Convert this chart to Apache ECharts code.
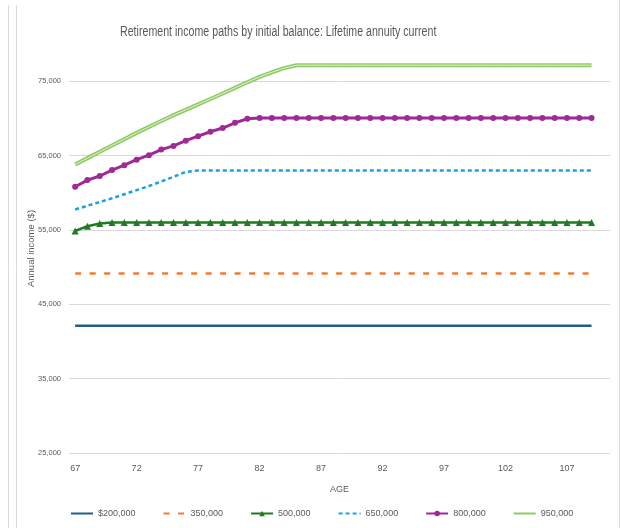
<!DOCTYPE html>
<html>
<head>
<meta charset="utf-8">
<title>Retirement income paths</title>
<script src="https://cdn.jsdelivr.net/npm/echarts@6/dist/echarts.min.js"></script>
<style>
  html, body { margin: 0; padding: 0; background: #ffffff; }
  #chart { width: 620px; height: 528px; }
</style>
</head>
<body>
<div id="chart"></div>
<script>
// Ages on the horizontal axis (110 is an empty slot at the end)
const ages = [
  '67','68','69','70','71','72','73','74','75','76','77','78','79','80','81',
  '82','83','84','85','86','87','88','89','90','91','92','93','94','95','96',
  '97','98','99','100','101','102','103','104','105','106','107','108','109','110'
];

// Annual income ($) by initial balance, ages 67–109
const income200 = [
  42100,42100,42100,42100,42100,42100,42100,42100,42100,42100,42100,42100,42100,42100,42100,
  42100,42100,42100,42100,42100,42100,42100,42100,42100,42100,42100,42100,42100,42100,42100,
  42100,42100,42100,42100,42100,42100,42100,42100,42100,42100,42100,42100,42100
];
const income350 = [
  49150,49150,49150,49150,49150,49150,49150,49150,49150,49150,49150,49150,49150,49150,49150,
  49150,49150,49150,49150,49150,49150,49150,49150,49150,49150,49150,49150,49150,49150,49150,
  49150,49150,49150,49150,49150,49150,49150,49150,49150,49150,49150,49150,49150
];
const income500 = [
  54850,55500,55850,56000,56000,56000,56000,56000,56000,56000,56000,56000,56000,56000,56000,
  56000,56000,56000,56000,56000,56000,56000,56000,56000,56000,56000,56000,56000,56000,56000,
  56000,56000,56000,56000,56000,56000,56000,56000,56000,56000,56000,56000,56000
];
const income650 = [
  57750,58250,58750,59250,59800,60350,60900,61500,62150,62800,63000,63000,63000,63000,63000,
  63000,63000,63000,63000,63000,63000,63000,63000,63000,63000,63000,63000,63000,63000,63000,
  63000,63000,63000,63000,63000,63000,63000,63000,63000,63000,63000,63000,63000
];
const income800 = [
  60800,61700,62250,63050,63700,64450,65050,65800,66300,67000,67600,68200,68700,69400,69950,
  70050,70050,70050,70050,70050,70050,70050,70050,70050,70050,70050,70050,70050,70050,70050,
  70050,70050,70050,70050,70050,70050,70050,70050,70050,70050,70050,70050,70050
];
const income950 = [
  63800,64650,65500,66350,67200,68050,68850,69650,70430,71150,71880,72600,73350,74100,74850,
  75580,76200,76750,77150,77150,77150,77150,77150,77150,77150,77150,77150,77150,77150,77150,
  77150,77150,77150,77150,77150,77150,77150,77150,77150,77150,77150,77150,77150
];

const seriesNames = ['$200,000', '350,000', '500,000', '650,000', '800,000', '950,000'];

// Value-axis tick positions
const incomeTicks = [25000, 35000, 45000, 55000, 65000, 75000];

const titleText = 'Retirement income paths by initial balance: Lifetime annuity current';

const FONT = "'Liberation Sans', Arial, sans-serif";
const TEXT = '#595959';

const chart = echarts.init(document.getElementById('chart'), null, { renderer: 'canvas' });

const fmt = v => Number(v).toLocaleString('en-US');

// Lines without markers get a plain stroke in the legend
const plainLegend = { opacity: 0 };

chart.setOption({
  animation: false,
  backgroundColor: '#ffffff',
  graphic: [
    { type: 'line', shape: { x1: 8.5, y1: 5, x2: 8.5, y2: 528 }, style: { stroke: '#dcdcdc', lineWidth: 1 }, silent: true },
    { type: 'line', shape: { x1: 16.5, y1: 5, x2: 16.5, y2: 528 }, style: { stroke: '#dcdcdc', lineWidth: 1 }, silent: true },
    { type: 'line', shape: { x1: 619.5, y1: 0, x2: 619.5, y2: 528 }, style: { stroke: '#dcdcdc', lineWidth: 1 }, silent: true },
    {
      // condensed chart title
      type: 'text', x: 120, y: 32, scaleX: 0.76, silent: true,
      style: {
        text: titleText, x: 0, y: 0,
        font: "14px 'Liberation Sans', Arial, sans-serif",
        fill: TEXT, verticalAlign: 'middle', align: 'left'
      }
    }
  ],
  grid: { left: 69, right: 10, top: 44, bottom: 75, containLabel: false },
  legend: {
    data: [
      { name: seriesNames[0], itemStyle: plainLegend },
      { name: seriesNames[1], itemStyle: plainLegend },
      { name: seriesNames[2] },
      { name: seriesNames[3], itemStyle: plainLegend },
      { name: seriesNames[4] },
      { name: seriesNames[5], itemStyle: plainLegend }
    ],
    left: 70,
    top: 509,
    padding: 0,
    itemWidth: 22,
    itemHeight: 7,
    itemGap: 27,
    textStyle: { fontFamily: FONT, fontSize: 9, color: TEXT }
  },
  xAxis: {
    type: 'category',
    data: ages,
    boundaryGap: true,
    name: 'AGE',
    nameLocation: 'middle',
    nameGap: 32,
    nameTextStyle: { fontFamily: FONT, fontSize: 9, color: TEXT },
    axisLine: { show: false },
    axisTick: { show: false },
    axisLabel: { interval: 4, margin: 11, fontFamily: FONT, fontSize: 9, color: TEXT },
    splitLine: { show: false }
  },
  yAxis: {
    type: 'value',
    min: 25000,
    max: 80000,
    name: 'Annual income ($)',
    nameLocation: 'middle',
    nameGap: 33,
    nameMoveOverlap: false,
    nameTextStyle: { fontFamily: FONT, fontSize: 9.5, color: TEXT },
    axisLine: { show: false },
    axisTick: { show: false, customValues: incomeTicks },
    axisLabel: { customValues: incomeTicks, margin: 8, fontFamily: FONT, fontSize: 7.5, color: TEXT, formatter: fmt },
    splitLine: { show: true, lineStyle: { color: '#d9d9d9', width: 1 } }
  },
  series: [
    {
      name: seriesNames[0], type: 'line', data: income200, showSymbol: false, symbol: 'none',
      itemStyle: { color: '#1F5F86' }, lineStyle: { color: '#1F5F86', width: 2.5 }
    },
    {
      name: seriesNames[1], type: 'line', data: income350, showSymbol: false, symbol: 'none',
      itemStyle: { color: '#ED7D31' }, lineStyle: { color: '#ED7D31', width: 2.5, type: [6, 8.5] }
    },
    {
      name: seriesNames[2], type: 'line', data: income500, symbol: 'triangle', symbolSize: 7, showSymbol: true,
      itemStyle: { color: '#1F7A22' }, lineStyle: { color: '#1F7A22', width: 2.5 }
    },
    {
      name: seriesNames[3], type: 'line', data: income650, showSymbol: false, symbol: 'none',
      itemStyle: { color: '#1BA1E2' }, lineStyle: { color: '#1BA1E2', width: 2.5, type: [4, 3] }
    },
    {
      name: seriesNames[4], type: 'line', data: income800, symbol: 'circle', symbolSize: 6, showSymbol: true,
      itemStyle: { color: '#9E2A95' }, lineStyle: { color: '#9E2A95', width: 3 }
    },
    {
      name: seriesNames[5], type: 'line', data: income950, showSymbol: false, symbol: 'none',
      itemStyle: { color: '#8DCB62' }, lineStyle: { color: '#8DCB62', width: 4 }
    },
    {
      // light inner stroke giving the 950,000 line its double-line look
      name: '950,000 inner', type: 'line', data: income950, showSymbol: false, symbol: 'none',
      silent: true, z: 3, lineStyle: { color: '#E3F4D8', width: 1 }
    }
  ]
});
</script>
</body>
</html>
